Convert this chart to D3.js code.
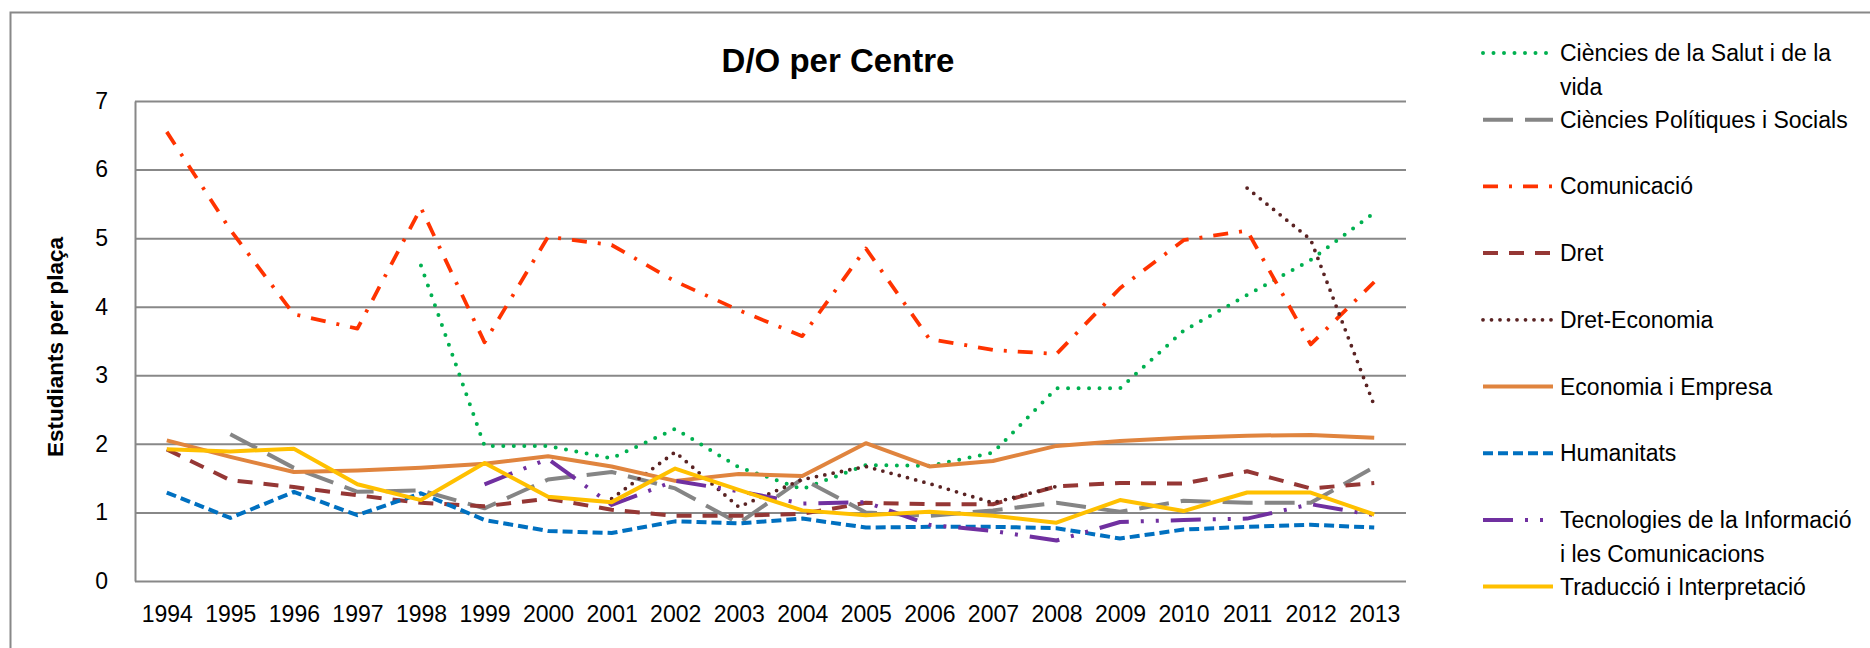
<!DOCTYPE html>
<html>
<head>
<meta charset="utf-8">
<script src="https://cdn.jsdelivr.net/npm/d3@7"></script>
<style>
  html, body { margin: 0; padding: 0; background: #fff; }
  svg { display: block; font-family: "Liberation Sans", Arial, sans-serif; }
</style>
</head>
<body>
<svg id="chart" width="1870" height="648"></svg>
<script>
// ---- data ----
const years = ["1994","1995","1996","1997","1998","1999","2000","2001","2002","2003",
               "2004","2005","2006","2007","2008","2009","2010","2011","2012","2013"];
const yTicks = [0, 1, 2, 3, 4, 5, 6, 7];

const salut   = [null, null, null, null, 4.60, 1.97, 1.97, 1.79, 2.22, 1.66, 1.34, 1.69, 1.68, 1.87, 2.81, 2.81, 3.65, 4.17, 4.68, 5.37];
const polit   = [null, 2.14, 1.65, 1.30, 1.32, 1.06, 1.48, 1.59, 1.35, 0.84, 1.49, 1.00, 0.95, 1.03, 1.14, 1.01, 1.17, 1.14, 1.14, 1.66];
const comunic = [6.55, 5.12, 3.89, 3.68, 5.44, 3.48, 5.02, 4.90, 4.37, 3.95, 3.57, 4.85, 3.53, 3.37, 3.31, 4.27, 4.97, 5.11, 3.45, 4.36];
const dret    = [1.92, 1.47, 1.37, 1.25, 1.14, 1.09, 1.20, 1.04, 0.95, 0.95, 0.98, 1.14, 1.12, 1.12, 1.38, 1.43, 1.42, 1.60, 1.35, 1.43];
const dretEco = [null, null, null, null, null, null, null, 1.20, 1.88, 1.08, 1.48, 1.67, 1.42, 1.14, 1.38, null, null, 5.73, 4.98, 2.56];
const econ    = [2.05, 1.81, 1.59, 1.61, 1.65, 1.71, 1.82, 1.67, 1.46, 1.56, 1.53, 2.01, 1.67, 1.75, 1.97, 2.04, 2.09, 2.12, 2.13, 2.09];
const human   = [1.29, 0.92, 1.30, 0.96, 1.28, 0.89, 0.73, 0.70, 0.87, 0.84, 0.91, 0.78, 0.79, 0.79, 0.77, 0.62, 0.75, 0.79, 0.82, 0.78];
const tic     = [null, null, null, null, null, 1.41, 1.78, 1.11, 1.46, 1.31, 1.13, 1.15, 0.82, 0.73, 0.59, 0.86, 0.89, 0.91, 1.12, 0.96];
const trad    = [1.92, 1.89, 1.93, 1.41, 1.18, 1.72, 1.23, 1.15, 1.64, 1.33, 1.03, 0.96, 1.01, 0.95, 0.85, 1.18, 1.02, 1.29, 1.29, 0.97];

const seriesNames = [
  ["Ciències de la Salut i de la", "vida"],
  ["Ciències Polítiques i Socials"],
  ["Comunicació"],
  ["Dret"],
  ["Dret-Economia"],
  ["Economia i Empresa"],
  ["Humanitats"],
  ["Tecnologies de la Informació", "i les Comunicacions"],
  ["Traducció i Interpretació"]
];
const seriesValues = [salut, polit, comunic, dret, dretEco, econ, human, tic, trad];

// ---- styles ----
const styles = [
  { color: "#00B050", width: 4,   dash: "0,10.5",            cap: "round" },
  { color: "#858585", width: 4,   dash: "30,12",             cap: "butt" },
  { color: "#FF3300", width: 3.75,dash: "15,11,3,11",        cap: "butt" },
  { color: "#953735", width: 4,   dash: "15,11",             cap: "butt" },
  { color: "#5A2323", width: 3.8, dash: "0,8.5",             cap: "round" },
  { color: "#E0843E", width: 4,   dash: null,                cap: "butt" },
  { color: "#0070C0", width: 4,   dash: "10,5",              cap: "butt" },
  { color: "#7030A0", width: 4,   dash: "30,12,3,12,3,12",   cap: "butt" },
  { color: "#FFC000", width: 4,   dash: null,                cap: "butt" }
];

const svg = d3.select("#chart");
const W = 1870, H = 648;
const plotL = 135, plotR = 1406, plotT = 101, plotB = 581;
const gridColor = "#888888";
const fontSize = 23;

// outer frame
svg.append("rect")
  .attr("x", 10.5).attr("y", 12.5)
  .attr("width", W).attr("height", H)
  .attr("fill", "#fff").attr("stroke", gridColor).attr("stroke-width", 2);

const x = d3.scalePoint().domain(years).range([plotL, plotR]).padding(0.5);
const y = d3.scaleLinear().domain([0, 7]).range([plotB, plotT]);

// y axis with gridlines
const yAxisG = svg.append("g")
  .attr("transform", `translate(${plotL},0)`)
  .call(d3.axisLeft(y).tickValues(yTicks).tickFormat(d3.format("d"))
    .tickSize(-(plotR - plotL)).tickSizeOuter(0).tickPadding(27));
yAxisG.select(".domain").attr("stroke", gridColor).attr("stroke-width", 2);
yAxisG.selectAll(".tick line").attr("stroke", gridColor).attr("stroke-width", 2);
yAxisG.selectAll(".tick text")
  .attr("font-size", fontSize).attr("fill", "#000")
  .attr("font-family", "Liberation Sans, Arial, sans-serif");

// x axis labels
const xAxisG = svg.append("g")
  .attr("transform", `translate(0,${plotB})`)
  .call(d3.axisBottom(x).tickSize(0).tickPadding(25));
xAxisG.select(".domain").remove();
xAxisG.selectAll(".tick text")
  .attr("font-size", fontSize).attr("fill", "#000")
  .attr("font-family", "Liberation Sans, Arial, sans-serif");

// lines
const line = d3.line()
  .defined(d => d != null)
  .x((d, i) => x(years[i]))
  .y(d => y(d));

seriesValues.forEach((vals, si) => {
  const st = styles[si];
  const p = svg.append("path")
    .datum(vals)
    .attr("d", line)
    .attr("fill", "none")
    .attr("stroke", st.color)
    .attr("stroke-width", st.width)
    .attr("stroke-linejoin", "round")
    .attr("stroke-linecap", st.cap);
  if (st.dash) p.attr("stroke-dasharray", st.dash);
});

// title
svg.append("text")
  .attr("x", 838).attr("y", 72)
  .attr("text-anchor", "middle")
  .attr("font-size", 33).attr("font-weight", "bold")
  .text("D/O per Centre");

// y axis title
svg.append("text")
  .attr("transform", "translate(63,347) rotate(-90)")
  .attr("text-anchor", "middle")
  .attr("font-size", 22.5).attr("font-weight", "bold")
  .text("Estudiants per plaça");

// legend
const legX1 = 1483, legX2 = 1553, legTextX = 1560;
const legY0 = 53, legStep = 66.7, lineH = 34;
seriesNames.forEach((lines, si) => {
  const st = styles[si];
  const yy = legY0 + si * legStep;
  const p = svg.append("line")
    .attr("x1", legX1).attr("x2", legX2)
    .attr("y1", yy).attr("y2", yy)
    .attr("stroke", st.color)
    .attr("stroke-width", st.width)
    .attr("stroke-linecap", st.cap);
  if (st.dash) p.attr("stroke-dasharray", st.dash);
  const t = svg.append("text")
    .attr("x", legTextX).attr("y", yy)
    .attr("font-size", fontSize).attr("fill", "#000");
  lines.forEach((ln, li) => {
    t.append("tspan")
      .attr("x", legTextX)
      .attr("y", yy + li * lineH)
      .attr("dy", "0.35em")
      .text(ln);
  });
});
</script>
</body>
</html>
